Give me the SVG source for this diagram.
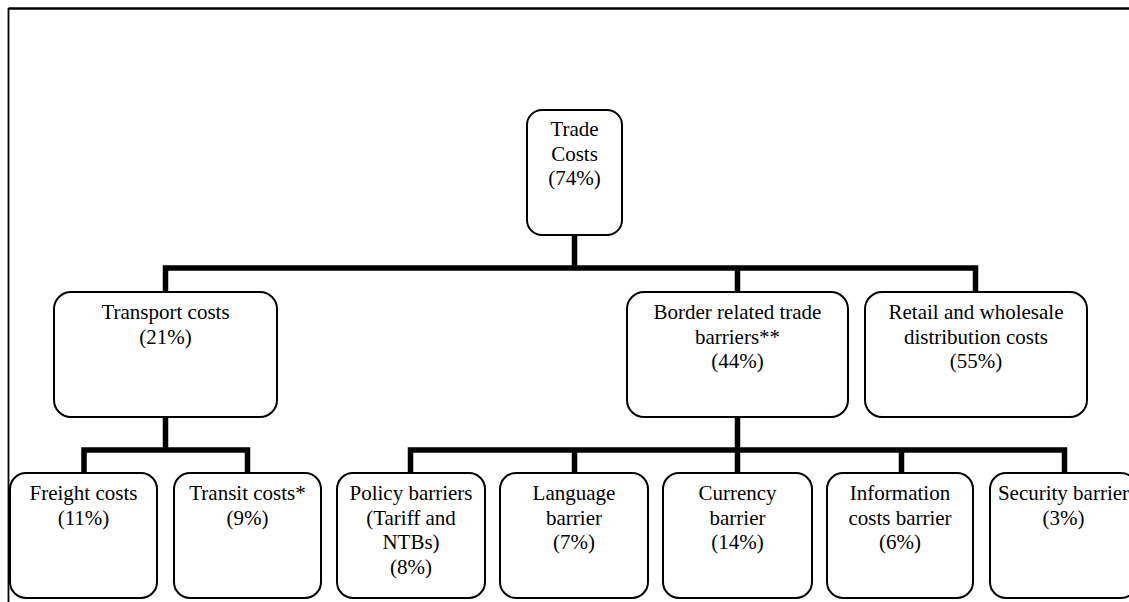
<svg xmlns="http://www.w3.org/2000/svg" width="1129" height="602" viewBox="0 0 1129 602">
<style>
.box{fill:#fff;stroke:#000;stroke-width:2}
.t{font-family:"Liberation Serif","Times New Roman",serif;font-size:21px;fill:#000;text-anchor:middle}
.c{fill:none;stroke:#000;stroke-width:5.5;stroke-linecap:square;stroke-linejoin:miter}
</style>
<rect width="1129" height="602" fill="#fff"/>
<g id="frame">
<line x1="8.5" y1="8.5" x2="1129" y2="8.5" stroke="#000" stroke-width="2.5"/>
<line x1="8.5" y1="8" x2="8.5" y2="602" stroke="#000" stroke-width="1.8"/>
</g>
<g id="connectors">
<path class="c" d="M574.5 236 V268 M165.5 268 H975.5 M165.5 268 V291 M737.5 268 V291 M975.5 268 V291"/>
<path class="c" d="M165.5 418 V450 M84 450 H247.5 M84 450 V472 M247.5 450 V472"/>
<path class="c" d="M737.5 418 V450 M410.5 450 H1064.5 M410.5 450 V472 M574.5 450 V472 M737.5 450 V472 M901.5 450 V472 M1064.5 450 V472"/>
</g>
<g id="trade">
<rect class="box" x="527" y="110" width="95" height="125" rx="15"/>
<text class="t" x="574.5" y="136">Trade</text>
<text class="t" x="574.5" y="160.5">Costs</text>
<text class="t" x="574.5" y="185">(74%)</text>
</g>
<g id="transport">
<rect class="box" x="54" y="292" width="223" height="125" rx="17"/>
<text class="t" x="165.5" y="319">Transport costs</text>
<text class="t" x="165.5" y="344">(21%)</text>
</g>
<g id="border">
<rect class="box" x="627" y="292" width="221" height="125" rx="17"/>
<text class="t" x="737.5" y="319">Border related trade</text>
<text class="t" x="737.5" y="343.5">barriers**</text>
<text class="t" x="737.5" y="368">(44%)</text>
</g>
<g id="retail">
<rect class="box" x="865" y="292" width="222" height="125" rx="17"/>
<text class="t" x="976" y="319">Retail and wholesale</text>
<text class="t" x="976" y="343.5">distribution costs</text>
<text class="t" x="976" y="368">(55%)</text>
</g>
<g id="freight">
<rect class="box" x="10" y="473" width="147" height="125" rx="16"/>
<text class="t" x="83.5" y="500">Freight costs</text>
<text class="t" x="83.5" y="524.5">(11%)</text>
</g>
<g id="transit">
<rect class="box" x="174" y="473" width="147" height="125" rx="16"/>
<text class="t" x="247.5" y="500">Transit costs*</text>
<text class="t" x="247.5" y="524.5">(9%)</text>
</g>
<g id="policy">
<rect class="box" x="337" y="473" width="148" height="125" rx="16"/>
<text class="t" x="411" y="500">Policy barriers</text>
<text class="t" x="411" y="524.5">(Tariff and</text>
<text class="t" x="411" y="549">NTBs)</text>
<text class="t" x="411" y="573.5">(8%)</text>
</g>
<g id="language">
<rect class="box" x="500" y="473" width="148" height="125" rx="16"/>
<text class="t" x="574" y="500">Language</text>
<text class="t" x="574" y="524.5">barrier</text>
<text class="t" x="574" y="549">(7%)</text>
</g>
<g id="currency">
<rect class="box" x="663" y="473" width="149" height="125" rx="16"/>
<text class="t" x="737.5" y="500">Currency</text>
<text class="t" x="737.5" y="524.5">barrier</text>
<text class="t" x="737.5" y="549">(14%)</text>
</g>
<g id="information">
<rect class="box" x="827" y="473" width="146" height="125" rx="16"/>
<text class="t" x="900" y="500">Information</text>
<text class="t" x="900" y="524.5">costs barrier</text>
<text class="t" x="900" y="549">(6%)</text>
</g>
<g id="security">
<rect class="box" x="990" y="473" width="147" height="125" rx="16"/>
<text class="t" x="1063.5" y="500">Security barrier</text>
<text class="t" x="1063.5" y="524.5">(3%)</text>
</g>
</svg>
